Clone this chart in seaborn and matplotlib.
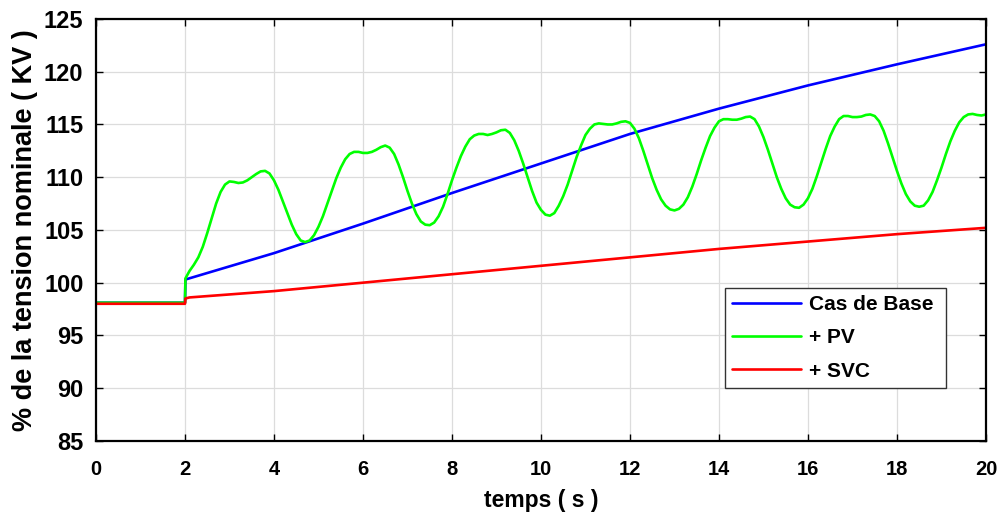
import numpy as np
import pandas as pd
import matplotlib
matplotlib.use("Agg")
import matplotlib.pyplot as plt
import seaborn as sns

# --- DONNEES ---
t_base = [0, 2.0, 2.01, 4, 6, 8, 10, 12, 14, 16, 18, 20]
v_base = [98.1, 98.1, 100.3, 102.8, 105.6, 108.5, 111.3, 114.1, 116.5, 118.7, 120.7, 122.6]

t_svc = [0, 2.0, 2.01, 2.1, 4, 6, 8, 10, 12, 14, 16, 18, 20]
v_svc = [98.0, 98.0, 98.5, 98.6, 99.2, 100.0, 100.8, 101.6, 102.4, 103.2, 103.9, 104.6, 105.2]

t_pv = [0, 2.0, 2.01, 2.1, 2.2, 2.3, 2.4, 2.5, 2.6, 2.7, 2.8, 2.9, 3.0, 3.1, 3.2, 3.3, 3.4,
        3.5, 3.6, 3.7, 3.8, 3.9, 4.0, 4.1, 4.2, 4.3, 4.4, 4.5, 4.6, 4.7, 4.8, 4.9, 5.0,
        5.1, 5.2, 5.3, 5.4, 5.5, 5.6, 5.7, 5.8, 5.9, 6.0, 6.1, 6.2, 6.3, 6.4, 6.5, 6.6,
        6.7, 6.8, 6.9, 7.0, 7.1, 7.2, 7.3, 7.4, 7.5, 7.6, 7.7, 7.8, 7.9, 8.0, 8.1, 8.2,
        8.3, 8.4, 8.5, 8.6, 8.7, 8.8, 8.9, 9.0, 9.1, 9.2, 9.3, 9.4, 9.5, 9.6, 9.7, 9.8,
        9.9, 10.0, 10.1, 10.2, 10.3, 10.4, 10.5, 10.6, 10.7, 10.8, 10.9, 11.0, 11.1, 11.2,
        11.3, 11.4, 11.5, 11.6, 11.7, 11.8, 11.9, 12.0, 12.1, 12.2, 12.3, 12.4, 12.5, 12.6,
        12.7, 12.8, 12.9, 13.0, 13.1, 13.2, 13.3, 13.4, 13.5, 13.6, 13.7, 13.8, 13.9, 14.0,
        14.1, 14.2, 14.3, 14.4, 14.5, 14.6, 14.7, 14.8, 14.9, 15.0, 15.1, 15.2, 15.3, 15.4,
        15.5, 15.6, 15.7, 15.8, 15.9, 16.0, 16.1, 16.2, 16.3, 16.4, 16.5, 16.6, 16.7, 16.8,
        16.9, 17.0, 17.1, 17.2, 17.3, 17.4, 17.5, 17.6, 17.7, 17.8, 17.9, 18.0, 18.1, 18.2,
        18.3, 18.4, 18.5, 18.6, 18.7, 18.8, 18.9, 19.0, 19.1, 19.2, 19.3, 19.4, 19.5, 19.6,
        19.7, 19.8, 19.9, 20.0]
v_pv = [98.1, 98.1, 100.4, 101.1, 101.7, 102.4, 103.4, 104.7, 106.1, 107.5, 108.6, 109.3, 109.6, 109.55, 109.45, 109.5, 109.7,
        110.0, 110.3, 110.55, 110.6, 110.35, 109.7, 108.8, 107.7, 106.6, 105.5, 104.6, 104.0, 103.85, 104.0, 104.5, 105.3,
        106.3, 107.5, 108.7, 109.9, 110.9, 111.7, 112.2, 112.4, 112.4, 112.3, 112.3, 112.4, 112.6, 112.85, 113.0, 112.8,
        112.2, 111.2, 110.0, 108.7, 107.5, 106.5, 105.8, 105.5, 105.45, 105.7, 106.3, 107.2, 108.4, 109.7, 110.9, 112.0,
        112.9, 113.6, 113.95, 114.1, 114.1, 114.0, 114.1, 114.25, 114.45, 114.5, 114.2, 113.5, 112.5, 111.3, 110.0, 108.7,
        107.6, 106.9, 106.45, 106.35, 106.6, 107.3, 108.2, 109.3, 110.6, 111.9, 113.0, 114.0, 114.6, 115.0,
        115.1, 115.05, 115.0, 115.0, 115.1, 115.25, 115.3, 115.15, 114.6, 113.7, 112.5, 111.2, 109.9, 108.8,
        107.9, 107.3, 106.95, 106.85, 107.0, 107.4, 108.1, 109.1, 110.3, 111.6, 112.8, 113.9, 114.7, 115.3,
        115.5, 115.5, 115.45, 115.45, 115.55, 115.7, 115.75, 115.5, 114.8, 113.8, 112.6, 111.3, 110.0, 108.9,
        108.0, 107.4, 107.15, 107.1, 107.4, 108.0, 108.9, 110.1, 111.4, 112.7, 113.9, 114.8, 115.5, 115.8,
        115.8, 115.7, 115.7, 115.75, 115.9, 115.95, 115.8, 115.3, 114.4, 113.2, 111.9, 110.6, 109.4, 108.4,
        107.7, 107.3, 107.2, 107.3, 107.8, 108.6, 109.7, 110.9, 112.2, 113.4, 114.4, 115.2, 115.7, 115.95,
        116.0, 115.9, 115.85, 115.95]

series = ["Cas de Base", "+ PV", "+ SVC"]
colors = ["#0000ff", "#00ff00", "#ff0000"]

df = pd.concat([
    pd.DataFrame({"t": t_base, "v": v_base, "serie": series[0]}),
    pd.DataFrame({"t": t_pv, "v": v_pv, "serie": series[1]}),
    pd.DataFrame({"t": t_svc, "v": v_svc, "serie": series[2]}),
], ignore_index=True)

# --- STYLE ---
sns.set_theme(style="whitegrid")
plt.rcParams['font.family'] = ['Liberation Sans', 'DejaVu Sans']
plt.rcParams['text.color'] = 'black'
plt.rcParams['axes.labelcolor'] = 'black'

fig = plt.figure(figsize=(10.03, 5.23), dpi=100)
ax = fig.add_axes([0.0957, 0.157, 0.8873, 0.8067])

for name, col in zip(series, colors):
    sub = df[df["serie"] == name]
    sns.lineplot(x="t", y="v", data=sub, ax=ax, color=col, linewidth=1.9,
                 label=name, sort=False, estimator=None)

ax.set_xlim(0, 20)
ax.set_ylim(85, 125)
ax.set_xticks(np.arange(0, 21, 2))
ax.set_yticks(np.arange(85, 126, 5))
ax.grid(True, color="#dcdcdc", linewidth=0.9)
ax.set_facecolor("white")
for s in ax.spines.values():
    s.set_color("black")
    s.set_linewidth(1.6)
ax.tick_params(direction="in", length=5, width=1, colors="black",
               top=True, right=True, bottom=True, left=True)
ax.tick_params(axis="y", labelsize=17, pad=9)
ax.tick_params(axis="x", labelsize=14.5, pad=14)
for lab in ax.get_xticklabels() + ax.get_yticklabels():
    lab.set_fontweight("bold")

ax.set_xlabel("temps ( s )", fontsize=16.5, fontweight="bold", labelpad=7)
ax.set_ylabel("% de la tension nominale ( KV )", fontsize=19.5, fontweight="bold", labelpad=4)

leg = ax.legend(loc="lower left", bbox_to_anchor=(0.7067, 0.1256, 0.2483, 0.244), mode="expand",
                prop={'size': 15, 'weight': 'bold'},
                frameon=True, fancybox=False, borderaxespad=0, borderpad=0.35,
                handlelength=3.3, handletextpad=0.4, labelspacing=0.68)
leg.get_frame().set_edgecolor("#333333")
leg.get_frame().set_linewidth(1.0)
leg.get_frame().set_alpha(1)
for txt in leg.get_texts():
    txt.set_color("black")

plt.savefig("out.png", dpi=100)
